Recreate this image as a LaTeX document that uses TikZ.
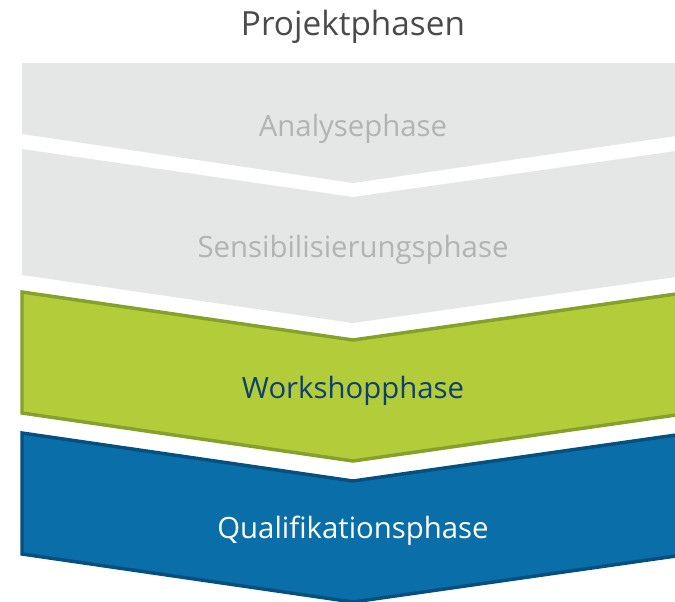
\documentclass[tikz,border=0pt]{standalone}
\usepackage{fontspec}
\setmainfont{Open Sans}
\usetikzlibrary{positioning}

\definecolor{phasegrey}{HTML}{E5E6E6}
\definecolor{phasegreytext}{HTML}{B2B3B3}
\definecolor{phasegreen}{HTML}{B3CD3A}
\definecolor{phasegreenline}{HTML}{86A02C}
\definecolor{phaseblue}{HTML}{0A6EA8}
\definecolor{phasebluenline}{HTML}{05507E}
\definecolor{phasenavy}{HTML}{0E3F6E}
\definecolor{titlegrey}{HTML}{4A4A4A}

\tikzstyle{greyband} = [fill=phasegrey]
\tikzstyle{greenband} = [fill=phasegreen, draw=phasegreenline, line width=2.6pt, line join=miter]
\tikzstyle{blueband} = [fill=phaseblue, draw=phasebluenline, line width=2.6pt, line join=miter]
\tikzstyle{label} = [font=\fontsize{22}{26}\selectfont, anchor=center]

\begin{document}
\begin{tikzpicture}[x=0.75pt,y=-0.75pt]
  \useasboundingbox (0,0) rectangle (675,601);
  \clip (0,0) rectangle (675,601);

  % grey bands
  \path[greyband,rounded corners=3pt] (22,63) -- (690,63) -- (690,120) [sharp corners]
        -- (690,134) -- (353,183) -- (22,134) -- cycle;
  \path[greyband] (22,149) -- (353,197) -- (690,149) -- (690,275) -- (353,323) -- (22,275) -- cycle;

  % coloured bands
  \draw[greenband] (22,292) -- (353,340) -- (690,292) -- (690,413) -- (353,461) -- (22,413) -- cycle;
  \draw[blueband] (22,433) -- (353,481) -- (690,433) -- (690,554) -- (353,602) -- (22,554) -- cycle;

  \node[font=\fontsize{25}{29}\selectfont, text=titlegrey] (title) at (353,27) {Projektphasen};
  \node[label, text=phasegreytext] (analyse) at (353,129) {Analysephase};
  \node[label, text=phasegreytext] (sensi) at (353,250) {Sensibilisierungsphase};
  \node[label, text=phasenavy] (workshop) at (353,391) {Workshopphase};
  \node[label, text=white] (quali) at (353,531) {Qualifikationsphase};
\end{tikzpicture}
\end{document}
